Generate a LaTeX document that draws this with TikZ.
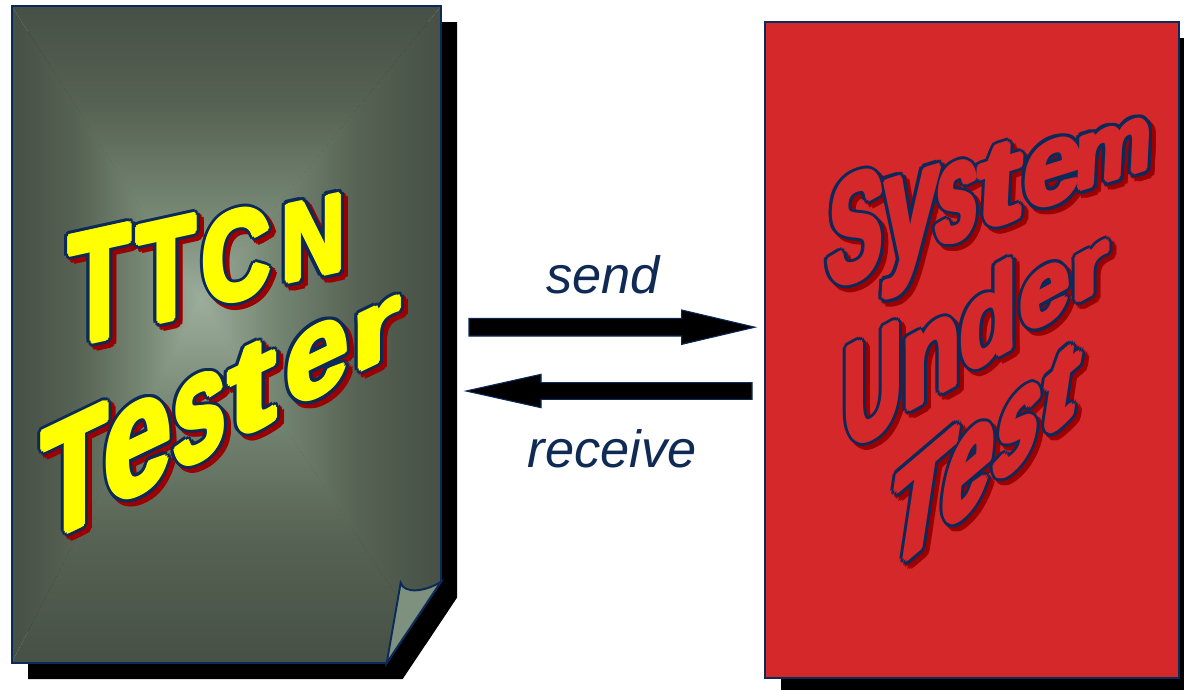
\documentclass[tikz,border=0pt]{standalone}
\usepackage{fontspec}
\newfontfamily\wafontfam{Liberation Sans}
\newfontfamily\lblfont{Liberation Sans}
\usetikzlibrary{calc,shadows}

\definecolor{navyc}{HTML}{0B2A5A}
\definecolor{txtnavy}{HTML}{0F2A55}
\definecolor{shadred}{HTML}{9B0000}
\definecolor{sutred}{HTML}{D5282A}
\definecolor{wyellow}{HTML}{FFFF00}
\definecolor{cDark}{HTML}{465046}
\definecolor{cMid}{HTML}{566253}
\definecolor{cMidB}{HTML}{768774}
\definecolor{cLight}{HTML}{9CAE9B}
\definecolor{flapc}{HTML}{7E907E}

\pgfdeclareverticalshading{gT}{100bp}{color(0bp)=(cLight); color(25bp)=(cLight); color(40bp)=(cMidB); color(58bp)=(cMid); color(75bp)=(cDark); color(100bp)=(cDark)}
\pgfdeclareverticalshading{gB}{100bp}{color(0bp)=(cDark); color(25bp)=(cDark); color(42bp)=(cMid); color(60bp)=(cMidB); color(75bp)=(cLight); color(100bp)=(cLight)}
\pgfdeclarehorizontalshading{gL}{100bp}{color(0bp)=(cDark); color(25bp)=(cDark); color(42bp)=(cMid); color(60bp)=(cMidB); color(75bp)=(cLight); color(100bp)=(cLight)}
\pgfdeclarehorizontalshading{gR}{100bp}{color(0bp)=(cLight); color(25bp)=(cLight); color(40bp)=(cMidB); color(58bp)=(cMid); color(75bp)=(cDark); color(100bp)=(cDark)}

\tikzset{
  glyph/.style={anchor=base west, inner sep=0pt, outer sep=0pt, transform shape},
  lbl/.style={font=\lblfont\itshape\fontsize{29.8}{34}\selectfont, text=txtnavy, inner sep=0pt},
  blockarrow/.style={fill=black, draw=navyc, line width=0.6pt},
  docline/.style={draw=navyc, line width=1.1pt}
}

\newsavebox\LetBox
\newcommand\wafont{\wafontfam\bfseries\fontsize{20}{24}\selectfont}
\newcommand\measureletter[1]{%
  \sbox\LetBox{\wafont #1}%
  \expandafter\xdef\csname lw@#1\endcsname{\the\wd\LetBox}%
  \expandafter\xdef\csname lh@#1\endcsname{\the\ht\LetBox}}
\def\wlmode{0}
\def\boldr{2.6}
\def\outr{5.6}
% #1 centre x, #2 bottom y (image px), #3 width, #4 height, #5 slope, #6 lean, #7 letter, #8 fill
\newcommand\WL[8]{%
  \edef\lw{\csname lw@#7\endcsname}\edef\lh{\csname lh@#7\endcsname}%
  \pgfmathsetmacro\wxs{#3*0.56693/\lw}%
  \pgfmathsetmacro\wys{#4*0.56693/\lh}%
  \pgfmathsetmacro\wb{\wxs*#5}%
  \pgfmathsetmacro\wc{\wys*#6}%
  \pgfmathsetmacro\wx{#1-#3/2}%
  \pgfmathsetmacro\wy{#2+#5*#3/2}%
  \ifcase\wlmode
    \foreach \ang in {0,22.5,...,337.5}{%
      \begin{scope}[shift={({\wx+4+\outr*cos(\ang)},{\wy+4+\outr*sin(\ang)})},cm={\wxs,\wb,\wc,\wys,(0,0)}]
        \node[glyph,text=shadred] at (0,0) {\wafont #7};
      \end{scope}}%
  \or
    \foreach \ang in {0,22.5,...,337.5}{%
      \begin{scope}[shift={({\wx+\outr*cos(\ang)},{\wy+\outr*sin(\ang)})},cm={\wxs,\wb,\wc,\wys,(0,0)}]
        \node[glyph,text=navyc] at (0,0) {\wafont #7};
      \end{scope}}%
  \else
    \foreach \rr/\ang in {0/0,\boldr/0,\boldr/45,\boldr/90,\boldr/135,\boldr/180,\boldr/225,\boldr/270,\boldr/315}{%
      \begin{scope}[shift={({\wx+\rr*cos(\ang)},{\wy+\rr*sin(\ang)})},cm={\wxs,\wb,\wc,\wys,(0,0)}]
        \node[glyph,text=#8] at (0,0) {\wafont #7};
      \end{scope}}%
  \fi}

\newcommand\AllLetters{%
  % TTCN
  \WL{100}{340}{62}{110}{0.22}{0}{T}{wyellow}%
  \WL{166.5}{320}{59}{99}{0.22}{0}{T}{wyellow}%
  \WL{236.5}{299}{68}{88}{0.22}{0}{C}{wyellow}%
  \WL{313.5}{276}{63}{76}{0.22}{0}{N}{wyellow}%
  % Tester
  \WL{75}{528}{65}{111}{0.48}{0}{T}{wyellow}%
  \WL{138}{493}{67}{90}{0.48}{0}{e}{wyellow}%
  \WL{199.5}{459}{53}{83}{0.48}{0}{s}{wyellow}%
  \WL{252.5}{430}{49}{84}{0.48}{0}{t}{wyellow}%
  \WL{317.5}{395}{63}{69}{0.48}{0}{e}{wyellow}%
  \WL{376.5}{362}{49}{55}{0.48}{0}{r}{wyellow}%
  % System
  \WL{853.5}{280}{55}{107}{0.31}{0.05}{S}{sutred}%
  \WL{908.5}{258.5}{55}{85}{0.31}{0.05}{y}{sutred}%
  \WL{955}{240}{41}{77}{0.31}{0.05}{s}{sutred}%
  \WL{998}{223.5}{45}{78}{0.31}{0.05}{t}{sutred}%
  \WL{1051.5}{202.7}{59}{62}{0.31}{0.05}{e}{sutred}%
  \WL{1112.5}{179}{77}{52}{0.31}{0.05}{m}{sutred}%
  % Under
  \WL{873}{436}{57}{101}{0.55}{0}{U}{sutred}%
  \WL{931.5}{397}{59}{72}{0.55}{0}{n}{sutred}%
  \WL{988.5}{360}{57}{89}{0.55}{0}{d}{sutred}%
  \WL{1045}{322.5}{49}{54}{0.55}{0}{e}{sutred}%
  \WL{1090}{294}{37}{44}{0.55}{0}{r}{sutred}%
  % Test
  \WL{913}{554}{61}{104}{0.85}{0.15}{T}{sutred}%
  \WL{962}{516}{49}{87}{0.85}{0.15}{e}{sutred}%
  \WL{1012}{469}{43}{79}{0.85}{0.15}{s}{sutred}%
  \WL{1055}{429}{35}{79}{0.85}{0.15}{t}{sutred}%
}

\begin{document}
\measureletter{T}\measureletter{C}\measureletter{N}\measureletter{e}%
\measureletter{s}\measureletter{t}\measureletter{r}\measureletter{S}%
\measureletter{y}\measureletter{m}\measureletter{U}\measureletter{n}%
\measureletter{d}%
\begin{tikzpicture}[x=0.02cm, y=-0.02cm]
\useasboundingbox (0,0) rectangle (1184,690);
\clip (0,0) rectangle (1184,690);
\fill[white] (0,0) rectangle (1184,690);

% ---------- left document (TTCN Tester) ----------
\coordinate (tester) at (226,335);
\fill[black] (28,22) -- (457,22) -- (457,597.7) -- (402.7,679) -- (28,679) -- cycle;
\begin{scope}
  \clip (12,6) -- (441,6) -- (441,581.7) -- (386.7,663) -- (12,663) -- cycle;
  \begin{scope}\clip (11,5) -- (442,5) -- (200,300) -- cycle;
    \shade[shading=gT] (11,5) rectangle (442,300);\end{scope}
  \begin{scope}\clip (11,664) -- (442,664) -- (200,300) -- cycle;
    \shade[shading=gB] (11,300) rectangle (442,664);\end{scope}
  \begin{scope}\clip (11,5) -- (11,664) -- (200.5,300) -- cycle;
    \shade[shading=gL] (11,5) rectangle (200.5,664);\end{scope}
  \begin{scope}\clip (442,5) -- (442,664) -- (199.5,300) -- cycle;
    \shade[shading=gR] (199.5,5) rectangle (442,664);\end{scope}
\end{scope}
\path[docline] (12,6) -- (441,6) -- (441,581.7) -- (386.7,663) -- (12,663) -- cycle;
\filldraw[fill=flapc, docline] (400.7,582.7) .. controls (404,594) and (425,592) .. (441,581.7) -- (386.7,663) -- cycle;

% ---------- right box (System Under Test) ----------
\node[draw=navyc, line width=1.1pt, fill=sutred, inner sep=0pt,
      minimum width=8.28cm, minimum height=13.12cm,
      general shadow={fill=black, shadow xshift=0.32cm, shadow yshift=-0.32cm}]
      (sut) at (972,350) {};

% ---------- arrows ----------
\coordinate (sendtail) at (469,327.2);
\coordinate (sendtip) at (755,327.2);
\coordinate (recvtail) at (752,391);
\coordinate (recvtip) at (466,391);
\path[blockarrow] ($(sendtail)+(0,-8.8)$) -- ($(sendtip)+(-73.3,-8.8)$) -- ($(sendtip)+(-73.3,-17.2)$)
   -- (sendtip) -- ($(sendtip)+(-73.3,17.2)$) -- ($(sendtip)+(-73.3,8.8)$) -- ($(sendtail)+(0,8.8)$) -- cycle;
\path[blockarrow] ($(recvtail)+(0,-8.3)$) -- ($(recvtip)+(75,-8.3)$) -- ($(recvtip)+(75,-16.7)$)
   -- (recvtip) -- ($(recvtip)+(75,16.7)$) -- ($(recvtip)+(75,8.3)$) -- ($(recvtail)+(0,8.3)$) -- cycle;

\node[lbl, anchor=base] (sendlbl) at (603,293) {send};
\node[lbl, anchor=base] (recvlbl) at (612,467) {receive};

% ---------- word art ----------
\def\wlmode{0}\AllLetters
\def\wlmode{1}\AllLetters
\def\wlmode{2}\AllLetters
\end{tikzpicture}
\end{document}
